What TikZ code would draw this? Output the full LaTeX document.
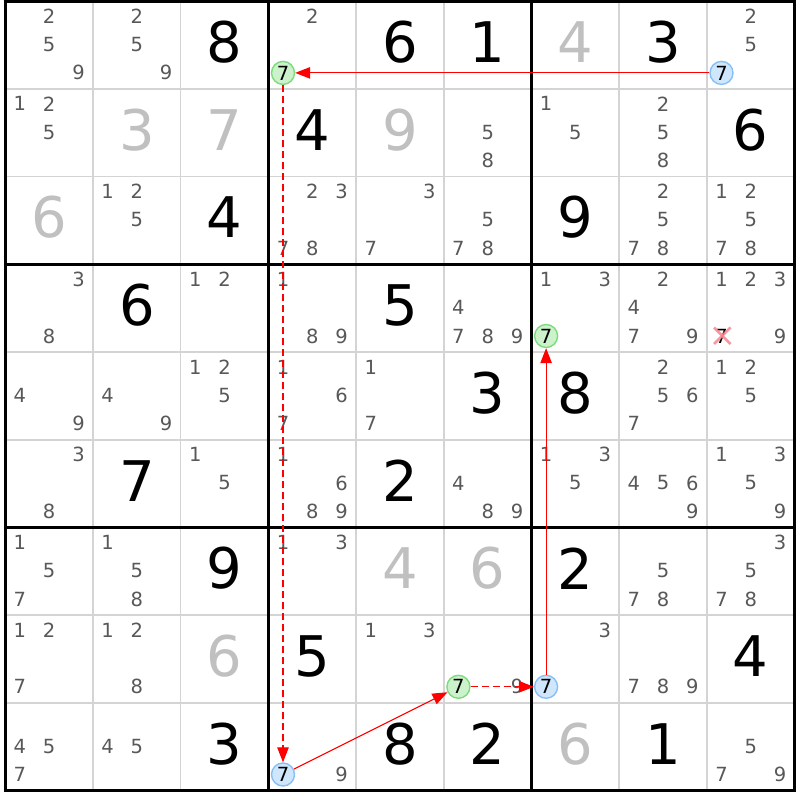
\documentclass[tikz,border=0pt]{standalone}
\usepackage{fontspec}
\setmainfont{DejaVu Sans}
\usetikzlibrary{arrows.meta}
\definecolor{candgray}{RGB}{88,88,88}
\definecolor{givgray}{RGB}{192,192,192}
\definecolor{thingrid}{RGB}{212,212,212}
\definecolor{gfill}{RGB}{204,242,204}
\definecolor{gline}{RGB}{125,218,125}
\definecolor{bfill}{RGB}{208,230,252}
\definecolor{bline}{RGB}{135,192,245}
\definecolor{xpink}{RGB}{246,135,145}
\definecolor{linkred}{RGB}{255,0,0}
\newcommand\candpos[3]{%
  \pgfmathsetmacro\cxx{5.3+(#1-1)*87.7+14.6+mod(#3-1,3)*29.3}%
  \pgfmathsetmacro\cyy{1.3+(#2-1)*87.7+14.8+int((#3-1)/3)*28.4}}
\newcommand\candset[3]{%
  \foreach \k in {#3}{\candpos{#1}{#2}{\k}\node[cand] (k#1#2\k) at (\cxx,\cyy) {\k};}}
\newcommand\bigdigit[4]{%
  \node[#4] (d#1#2) at ({5.3+(#1-0.5)*87.7},{1.3+(#2-0.5)*87.7-3}) {#3};}
\newcommand\hlcand[4]{%
  \candpos{#1}{#2}{#3}\node[#4] (h#1#2) at (\cxx,\cyy) {#3};}
\begin{document}
\begin{tikzpicture}[x=1pt,y=-1pt,
  bigdig/.style={inner sep=0pt, font=\fontsize{56}{56}\selectfont},
  solved/.style={bigdig,text=black},
  given/.style={bigdig,text=givgray},
  cand/.style={inner sep=0pt, font=\fontsize{19.5}{19.5}\selectfont, text=candgray},
  candblack/.style={cand,text=black},
  hlg/.style={circle, draw=gline, fill=gfill, line width=1.4pt, minimum size=23pt, inner sep=0pt, font=\fontsize{19.5}{19.5}\selectfont, text=black},
  hlb/.style={hlg, draw=bline, fill=bfill},
  link/.style={draw=linkred, line width=1.1pt, -{Triangle[length=15pt,width=11.5pt,fill=linkred]}},
  weaklink/.style={link, dash pattern=on 7pt off 4pt},
  thinline/.style={draw=thingrid, line width=1.5pt},
  thickline/.style={draw=black, line width=3pt},
]
\useasboundingbox (0,0) rectangle (800,800);
\fill[white] (0,0) rectangle (800,800);
% grid
\foreach \i in {1,2,4,5,7,8}{
  \draw[thinline] ({5.3+\i*87.7},1.3) -- ({5.3+\i*87.7},790.6);
  \draw[thinline] (5.3,{1.3+\i*87.7}) -- (794.6,{1.3+\i*87.7});
}
\foreach \i in {0,3,6,9}{
  \draw[thickline] ({5.3+\i*87.7},-0.2) -- ({5.3+\i*87.7},792.1);
  \draw[thickline] (3.8,{1.3+\i*87.7}) -- (796.1,{1.3+\i*87.7});
}
% big digits
\bigdigit{3}{1}{8}{solved}
\bigdigit{5}{1}{6}{solved}
\bigdigit{6}{1}{1}{solved}
\bigdigit{7}{1}{4}{given}
\bigdigit{8}{1}{3}{solved}
\bigdigit{2}{2}{3}{given}
\bigdigit{3}{2}{7}{given}
\bigdigit{4}{2}{4}{solved}
\bigdigit{5}{2}{9}{given}
\bigdigit{9}{2}{6}{solved}
\bigdigit{1}{3}{6}{given}
\bigdigit{3}{3}{4}{solved}
\bigdigit{7}{3}{9}{solved}
\bigdigit{2}{4}{6}{solved}
\bigdigit{5}{4}{5}{solved}
\bigdigit{6}{5}{3}{solved}
\bigdigit{7}{5}{8}{solved}
\bigdigit{2}{6}{7}{solved}
\bigdigit{5}{6}{2}{solved}
\bigdigit{3}{7}{9}{solved}
\bigdigit{5}{7}{4}{given}
\bigdigit{6}{7}{6}{given}
\bigdigit{7}{7}{2}{solved}
\bigdigit{3}{8}{6}{given}
\bigdigit{4}{8}{5}{solved}
\bigdigit{9}{8}{4}{solved}
\bigdigit{3}{9}{3}{solved}
\bigdigit{5}{9}{8}{solved}
\bigdigit{6}{9}{2}{solved}
\bigdigit{7}{9}{6}{given}
\bigdigit{8}{9}{1}{solved}
% candidates
\candset{1}{1}{2,5,9}
\candset{2}{1}{2,5,9}
\candset{4}{1}{2}
\candset{9}{1}{2,5}
\candset{1}{2}{1,2,5}
\candset{6}{2}{5,8}
\candset{7}{2}{1,5}
\candset{8}{2}{2,5,8}
\candset{2}{3}{1,2,5}
\candset{4}{3}{2,3,7,8}
\candset{5}{3}{3,7}
\candset{6}{3}{5,7,8}
\candset{8}{3}{2,5,7,8}
\candset{9}{3}{1,2,5,7,8}
\candset{1}{4}{3,8}
\candset{3}{4}{1,2}
\candset{4}{4}{1,8,9}
\candset{6}{4}{4,7,8,9}
\candset{7}{4}{1,3}
\candset{8}{4}{2,4,7,9}
\candset{9}{4}{1,2,3,9}
\candset{1}{5}{4,9}
\candset{2}{5}{4,9}
\candset{3}{5}{1,2,5}
\candset{4}{5}{1,6,7}
\candset{5}{5}{1,7}
\candset{8}{5}{2,5,6,7}
\candset{9}{5}{1,2,5}
\candset{1}{6}{3,8}
\candset{3}{6}{1,5}
\candset{4}{6}{1,6,8,9}
\candset{6}{6}{4,8,9}
\candset{7}{6}{1,3,5}
\candset{8}{6}{4,5,6,9}
\candset{9}{6}{1,3,5,9}
\candset{1}{7}{1,5,7}
\candset{2}{7}{1,5,8}
\candset{4}{7}{1,3}
\candset{8}{7}{5,7,8}
\candset{9}{7}{3,5,7,8}
\candset{1}{8}{1,2,7}
\candset{2}{8}{1,2,8}
\candset{5}{8}{1,3}
\candset{6}{8}{9}
\candset{7}{8}{3}
\candset{8}{8}{7,8,9}
\candset{1}{9}{4,5,7}
\candset{2}{9}{4,5}
\candset{4}{9}{9}
\candset{9}{9}{5,7,9}
% highlighted candidates
\hlcand{4}{1}{7}{hlg}
\hlcand{9}{1}{7}{hlb}
\hlcand{7}{4}{7}{hlg}
\hlcand{6}{8}{7}{hlg}
\hlcand{7}{8}{7}{hlb}
\hlcand{4}{9}{7}{hlb}
% eliminated candidate
\candpos{9}{4}{7}
\node[candblack] (x94) at (\cxx,\cyy) {7};
\draw[xpink, line width=2.8pt, opacity=0.85] ([shift={(-7.5,-8.5)}]x94.center) -- ([shift={(9,8)}]x94.center);
\draw[xpink, line width=2.8pt, opacity=0.85] ([shift={(-7.5,8)}]x94.center) -- ([shift={(9,-8.5)}]x94.center);
% chain
\draw[link] (h91) -- (h41);
\draw[weaklink] (h41) -- (h49);
\draw[link] (h49) -- (h68);
\draw[weaklink] (h68) -- (h78);
\draw[link] (h78) -- (h74);
\end{tikzpicture}
\end{document}
